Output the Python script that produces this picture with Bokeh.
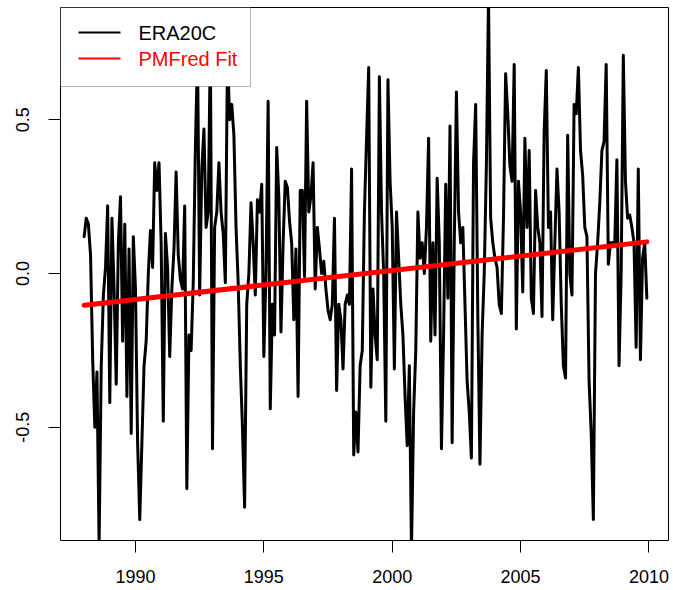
import math
from bokeh.plotting import figure
from bokeh.models import FixedTicker, BoxAnnotation, Label, Range1d
from bokeh.embed import file_html
from bokeh.resources import INLINE

# ---------------- data (monthly anomalies) ----------------
start_year = 1988
era20c_1988 = [0.12, 0.18, 0.16, 0.06, -0.28, -0.50, -0.32, -0.88, -0.30, -0.07, 0.02, 0.22]
era20c_1989 = [-0.42, 0.18, -0.05, -0.36, 0.10, 0.25, -0.22, 0.16, -0.40, 0.08, -0.52, 0.12]
era20c_1990 = [-0.05, -0.55, -0.80, -0.55, -0.30, -0.22, 0.00, 0.14, 0.02, 0.36, 0.27, 0.36]
era20c_1991 = [0.10, -0.48, 0.13, 0.02, -0.27, -0.05, 0.08, 0.33, 0.06, -0.02, -0.05, 0.22]
era20c_1992 = [-0.70, -0.20, -0.25, -0.03, 0.41, 0.72, -0.07, 0.34, 0.47, 0.15, 0.20, 0.75]
era20c_1993 = [-0.57, 0.15, 0.20, 0.36, 0.20, 0.13, -0.03, 0.72, 0.50, 0.55, 0.45, 0.15]
era20c_1994 = [-0.03, -0.30, -0.50, -0.76, -0.10, 0.00, 0.23, 0.10, -0.07, 0.24, 0.20, 0.29]
era20c_1995 = [-0.27, 0.00, 0.56, -0.44, -0.10, -0.20, 0.41, 0.25, -0.19, 0.10, 0.30, 0.28]
era20c_1996 = [0.17, 0.10, -0.15, 0.08, -0.40, 0.27, 0.27, -0.01, 0.56, 0.20, 0.25, 0.36]
era20c_1997 = [-0.05, 0.15, 0.08, 0.00, 0.04, -0.05, -0.12, -0.15, -0.10, 0.18, -0.38, -0.10]
era20c_1998 = [-0.15, -0.31, -0.10, -0.07, -0.10, 0.34, -0.59, -0.45, -0.58, -0.30, -0.25, 0.20]
era20c_1999 = [0.44, 0.67, -0.37, -0.05, -0.20, -0.28, 0.64, 0.20, 0.00, -0.48, 0.63, 0.30]
era20c_2000 = [0.15, -0.31, 0.20, 0.05, -0.10, -0.20, -0.40, -0.56, -0.30, -0.90, -0.45, -0.25]
era20c_2001 = [0.20, 0.05, 0.10, 0.00, 0.15, 0.44, -0.22, 0.10, -0.20, 0.31, 0.10, -0.57]
era20c_2002 = [-0.20, 0.29, -0.08, 0.48, -0.55, 0.10, 0.59, 0.20, 0.10, 0.15, -0.10, -0.35]
era20c_2003 = [-0.45, -0.60, 0.36, 0.55, -0.14, -0.62, -0.20, 0.00, 0.35, 0.90, 0.18, 0.10]
era20c_2004 = [0.05, 0.02, -0.10, -0.13, 0.18, 0.65, 0.52, 0.35, 0.30, 0.68, -0.18, 0.30]
era20c_2005 = [0.20, -0.06, 0.44, 0.15, 0.40, -0.08, -0.13, 0.27, 0.15, 0.10, -0.14, 0.46]
era20c_2006 = [0.66, 0.15, 0.20, -0.15, 0.10, 0.34, 0.20, -0.10, -0.30, -0.34, 0.45, 0.00]
era20c_2007 = [-0.07, 0.55, 0.52, 0.67, 0.40, 0.32, 0.15, 0.12, -0.35, -0.52, -0.80, 0.00]
era20c_2008 = [0.10, 0.23, 0.40, 0.43, 0.68, 0.03, 0.10, 0.10, 0.10, 0.37, -0.30, 0.00]
era20c_2009 = [0.71, 0.30, 0.18, 0.19, 0.15, 0.10, -0.24, 0.34, -0.28, 0.05, 0.10, -0.08]

era20c = (era20c_1988 + era20c_1989 + era20c_1990 + era20c_1991 + era20c_1992 +
          era20c_1993 + era20c_1994 + era20c_1995 + era20c_1996 + era20c_1997 +
          era20c_1998 + era20c_1999 + era20c_2000 + era20c_2001 + era20c_2002 +
          era20c_2003 + era20c_2004 + era20c_2005 + era20c_2006 + era20c_2007 +
          era20c_2008 + era20c_2009)
months = [start_year + i / 12.0 for i in range(len(era20c))]

fit_years = [1988.0, 2009.917]
fit_values = [-0.103, 0.103]

x_ticks = [1990, 1995, 2000, 2005, 2010]
y_ticks = [-0.5, 0.0, 0.5]
y_tick_labels = ["-0.5", "0.0", "0.5"]
legend_labels = ["ERA20C", "PMFred Fit"]
legend_colors = ["black", "red"]

# ---------------- layout ----------------
X0, X1 = 1987.08, 2010.76
Y0, Y1 = -0.868, 0.865
FW, FH = 608, 533
FONT = "Liberation Sans"

p = figure(frame_width=FW, frame_height=FH,
           x_range=Range1d(X0, X1), y_range=Range1d(Y0, Y1),
           output_backend="svg", toolbar_location=None,
           min_border_left=60, min_border_right=3,
           min_border_top=7, min_border_bottom=40)

p.background_fill_color = "white"
p.border_fill_color = "white"
p.outline_line_color = "black"
p.outline_line_width = 1
p.xgrid.visible = False
p.ygrid.visible = False

for ax in (p.xaxis[0], p.yaxis[0]):
    ax.axis_line_color = None
    ax.major_tick_line_color = "black"
    ax.major_tick_line_width = 1
    ax.major_tick_out = 12
    ax.major_tick_in = 0
    ax.minor_tick_line_color = None
    ax.major_label_text_font = FONT
    ax.major_label_text_font_size = "18px"
    ax.major_label_text_color = "black"

p.xaxis.ticker = FixedTicker(ticks=x_ticks)
p.xaxis.major_label_standoff = 17
p.yaxis.ticker = FixedTicker(ticks=y_ticks)
p.yaxis.major_label_overrides = {t: s for t, s in zip(y_ticks, y_tick_labels)}
p.yaxis.major_label_orientation = "vertical"
p.yaxis.major_label_standoff = 19

p.line(months, era20c, line_color="black", line_width=3,
       line_join="round", line_cap="round")
p.line(fit_years, fit_values, line_color="red", line_width=5,
       line_join="round", line_cap="round")

# ---------------- legend (drawn by hand: each label has its own colour) ----------------
def fx(px):
    return X0 + px * (X1 - X0) / FW

def fy(py):
    return Y1 - py * (Y1 - Y0) / FH

p.add_layout(BoxAnnotation(left=fx(0), right=fx(190), top=fy(0), bottom=fy(79),
                           fill_color="white", fill_alpha=1.0,
                           line_color="black", line_width=1))
row_y = [25, 51]
for lab, col, ry in zip(legend_labels, legend_colors, row_y):
    p.add_layout(BoxAnnotation(left=fx(18), right=fx(60), top=fy(ry - 1), bottom=fy(ry + 1),
                               fill_color=col, fill_alpha=1.0, line_color=None))
    p.add_layout(Label(x=fx(78), y=fy(ry), text=lab, text_font=FONT,
                       text_font_size="20px", text_color=col,
                       text_baseline="middle", text_align="left"))

open("out.html", "w").write(file_html(p, INLINE))
